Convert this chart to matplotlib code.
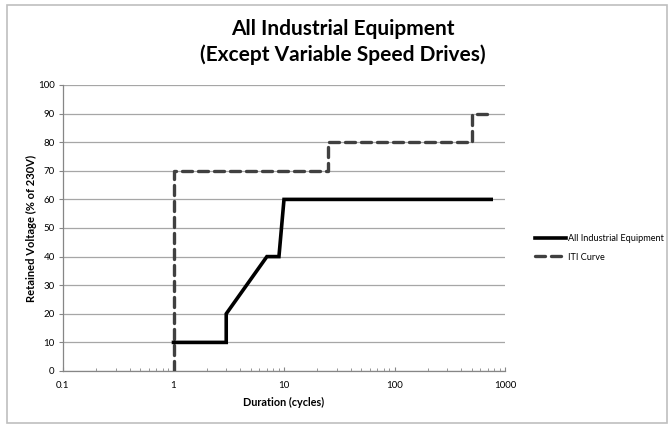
import matplotlib
matplotlib.use("Agg")
import matplotlib.pyplot as plt
from matplotlib.ticker import LogLocator, FixedLocator, NullFormatter, FixedFormatter
from matplotlib.patches import Rectangle

plt.rcParams['font.family'] = ['Lato', 'DejaVu Sans']

# Data
equip_x = [1, 3, 3, 7, 9, 10, 750]
equip_y = [10, 10, 20, 40, 40, 60, 60]
iti_x = [1, 1, 25, 25, 500, 500, 750]
iti_y = [0, 70, 70, 80, 80, 90, 90]
x_ticks = [0.1, 1, 10, 100, 1000]
x_tick_labels = ["0.1", "1", "10", "100", "1000"]
y_ticks = list(range(0, 101, 10))

title = "All Industrial Equipment\n(Except Variable Speed Drives)"
xlabel = "Duration (cycles)"
ylabel = "Retained Voltage (% of 230V)"
series_names = ["All Industrial Equipment", "ITI Curve"]

fig = plt.figure(figsize=(6.7, 4.28), dpi=100)
ax = fig.add_axes([63/670, 1 - 371/428, (505-63)/670, (371-85)/428])

# chart border
fig.patches.append(Rectangle((7/670, 5/428), 660/670, 418/428, transform=fig.transFigure,
                             fill=False, edgecolor='#bfbfbf', linewidth=1.2))

ax.plot(equip_x, equip_y, color='black', linewidth=2.6, label=series_names[0],
        solid_joinstyle='miter', zorder=4)
ax.plot(iti_x, iti_y, color='#404040', linewidth=2.4, label=series_names[1],
        dashes=(3.0, 1.8), dash_capstyle='round', zorder=3)

ax.set_xscale('log')
ax.set_xlim(0.1, 1000)
ax.set_ylim(0, 100)
ax.xaxis.set_major_locator(FixedLocator(x_ticks))
ax.xaxis.set_major_formatter(FixedFormatter(x_tick_labels))
ax.xaxis.set_minor_locator(LogLocator(base=10, subs=range(2, 10)))
ax.xaxis.set_minor_formatter(NullFormatter())
ax.set_yticks(y_ticks)

ax.yaxis.grid(True, color='#a6a6a6', linewidth=0.9)
ax.set_axisbelow(True)
for s in ['top', 'right']:
    ax.spines[s].set_visible(False)
for s in ['left', 'bottom']:
    ax.spines[s].set_color('#868686')
    ax.spines[s].set_linewidth(0.9)

ax.tick_params(axis='y', direction='out', length=3, color='#868686', labelsize=7, pad=3)
ax.tick_params(axis='x', which='major', direction='in', length=3, color='#868686', labelsize=7, pad=7)
ax.tick_params(axis='x', which='minor', direction='in', length=2, color='#868686')

ax.set_xlabel(xlabel, fontsize=7.8, fontweight='bold', labelpad=5)
ax.set_ylabel(ylabel, fontsize=8, fontweight='bold', labelpad=1)

fig.text(343/670, 1 - 42/428, title, ha='center', va='center', fontsize=15,
         fontweight='bold', linespacing=1.3)

leg = ax.legend(loc='center left', bbox_to_anchor=(1.05, 0.43), frameon=False,
                fontsize=6.6, handlelength=3.3, handletextpad=0.3, labelspacing=1.0)

fig.savefig("out.png", dpi=100)
